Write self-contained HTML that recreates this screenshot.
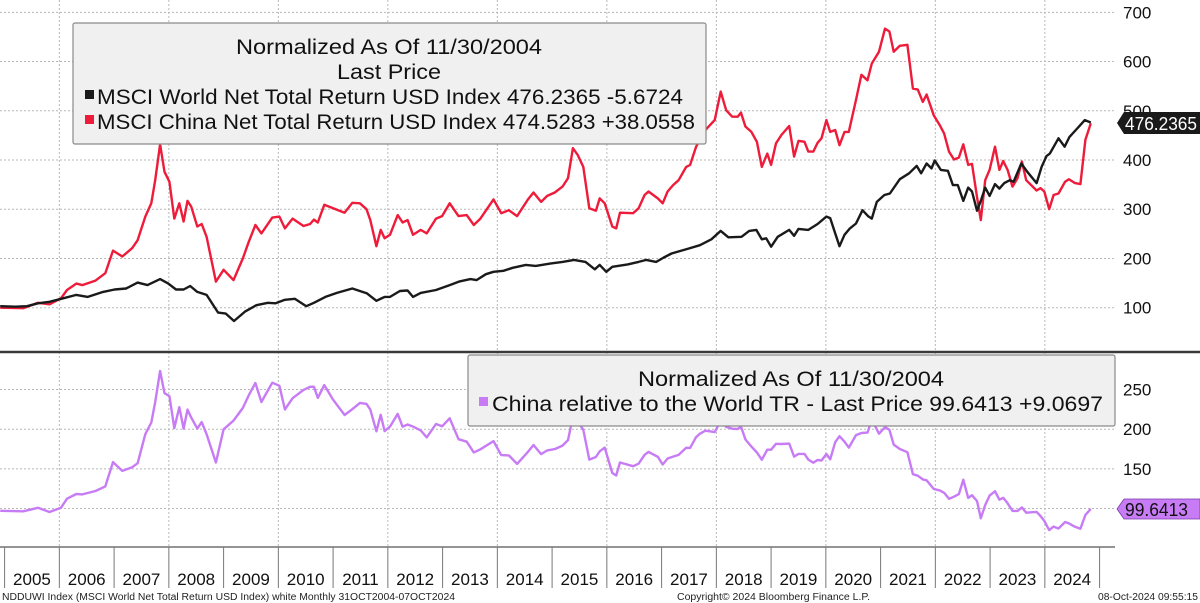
<!DOCTYPE html>
<html><head><meta charset="utf-8"><style>
html,body{margin:0;padding:0;background:#fff;}
svg{display:block;font-family:"Liberation Sans",sans-serif;}
</style></head><body>
<svg id="chart" width="1200" height="603" viewBox="0 0 1200 603" xmlns="http://www.w3.org/2000/svg">
<g id="grid"></g>
<g id="axes"></g>
<g id="series"></g>
<g>
 <rect x="73" y="23" width="633" height="121" fill="#f0f0f0" stroke="#8a8a8a" stroke-width="1.2" rx="2"/>
 <text x="389" y="54" font-size="21" text-anchor="middle" textLength="306" lengthAdjust="spacingAndGlyphs" fill="#111">Normalized As Of 11/30/2004</text>
 <text x="389" y="79" font-size="21" text-anchor="middle" textLength="104" lengthAdjust="spacingAndGlyphs" fill="#111">Last Price</text>
 <rect x="85" y="90" width="9" height="9" fill="#1a1a1a"/>
 <text x="97" y="104" font-size="21" textLength="586" lengthAdjust="spacingAndGlyphs" fill="#111">MSCI World Net Total Return USD Index 476.2365 -5.6724</text>
 <rect x="85" y="115" width="9" height="9" fill="#ee1c3a"/>
 <text x="97" y="129" font-size="21" textLength="598" lengthAdjust="spacingAndGlyphs" fill="#111">MSCI China Net Total Return USD Index 474.5283 +38.0558</text>
</g>
<g>
 <rect x="468" y="355" width="647" height="71" fill="#f0f0f0" stroke="#8a8a8a" stroke-width="1.2" rx="2"/>
 <text x="791" y="386" font-size="21" text-anchor="middle" textLength="306" lengthAdjust="spacingAndGlyphs" fill="#111">Normalized As Of 11/30/2004</text>
 <rect x="479" y="397" width="9" height="9" fill="#c77cf5"/>
 <text x="492" y="411" font-size="21" textLength="611" lengthAdjust="spacingAndGlyphs" fill="#111">China relative to the World TR - Last Price 99.6413 +9.0697</text>
</g>
<g>
 <polygon points="1117,123 1124,112 1200,112 1200,134 1124,134" fill="#1a1a1a"/>
 <text x="1125" y="130" font-size="18" fill="#fff" textLength="72" lengthAdjust="spacingAndGlyphs">476.2365</text>
</g>
<g>
 <polygon points="1117,509 1124,499 1200,499 1200,519 1124,519" fill="#c77cf5" stroke="#7a3aa8" stroke-width="0.8"/>
 <text x="1125" y="516" font-size="18" fill="#111" textLength="63" lengthAdjust="spacingAndGlyphs">99.6413</text>
</g>
<g font-size="10" fill="#222">
 <text x="2" y="600" textLength="453" lengthAdjust="spacingAndGlyphs">NDDUWI Index (MSCI World Net Total Return USD Index) white  Monthly 31OCT2004-07OCT2024</text>
 <text x="677" y="600" textLength="193" lengthAdjust="spacingAndGlyphs">Copyright© 2024 Bloomberg Finance L.P.</text>
 <text x="1098" y="600" textLength="100" lengthAdjust="spacingAndGlyphs">08-Oct-2024 09:55:15</text>
</g>
</svg>
<script>
const chinaDates=[2004.92,2005.34,2005.61,2005.82,2006.03,2006.14,2006.31,2006.42,2006.66,2006.84,2006.98,2007.15,2007.33,2007.43,2007.57,2007.68,2007.75,2007.84,2007.92,2008.01,2008.10,2008.19,2008.27,2008.34,2008.41,2008.52,2008.60,2008.69,2008.86,2009.00,2009.18,2009.35,2009.46,2009.58,2009.69,2009.89,2010.02,2010.12,2010.26,2010.46,2010.58,2010.65,2010.72,2010.84,2011.00,2011.21,2011.35,2011.49,2011.61,2011.68,2011.79,2011.87,2011.94,2012.04,2012.18,2012.27,2012.36,2012.46,2012.60,2012.71,2012.88,2012.99,2013.13,2013.29,2013.44,2013.57,2013.69,2013.93,2014.07,2014.21,2014.36,2014.56,2014.66,2014.80,2014.91,2015.05,2015.19,2015.29,2015.38,2015.47,2015.57,2015.68,2015.80,2015.87,2015.96,2016.10,2016.17,2016.24,2016.48,2016.58,2016.69,2016.76,2016.93,2017.02,2017.11,2017.21,2017.31,2017.45,2017.52,2017.63,2017.70,2017.80,2017.97,2018.08,2018.18,2018.29,2018.39,2018.45,2018.53,2018.64,2018.74,2018.83,2018.93,2019.00,2019.09,2019.19,2019.33,2019.42,2019.50,2019.61,2019.68,2019.77,2019.85,2019.92,2020.01,2020.08,2020.17,2020.25,2020.34,2020.42,2020.55,2020.65,2020.76,2020.84,2020.97,2021.08,2021.16,2021.24,2021.35,2021.49,2021.59,2021.68,2021.77,2021.84,2021.97,2022.08,2022.16,2022.25,2022.34,2022.43,2022.51,2022.60,2022.67,2022.76,2022.83,2022.91,2022.99,2023.09,2023.17,2023.24,2023.32,2023.41,2023.50,2023.58,2023.66,2023.75,2023.85,2023.92,2023.99,2024.08,2024.16,2024.25,2024.37,2024.44,2024.55,2024.65,2024.74,2024.84];
const chinaValues=[100,99,110,107,119,136,149,146,155,170,216,204,221,237,285,312,359,432,376,356,281,312,275,317,305,265,270,244,153,177,156,200,234,268,251,283,285,261,281,266,270,279,273,309,302,293,313,312,300,278,225,258,241,248,288,273,278,248,258,251,281,286,312,286,288,268,281,320,292,298,286,320,334,315,327,334,346,363,424,410,386,302,297,322,312,265,261,293,292,302,329,336,322,312,336,349,359,386,390,427,441,461,481,539,501,488,488,496,468,457,437,386,413,390,434,451,469,407,439,437,417,417,435,444,481,457,461,430,457,457,522,573,562,596,620,667,661,620,632,634,545,543,518,533,491,471,454,417,401,405,432,390,392,325,278,359,380,427,380,398,380,346,363,397,359,349,338,343,336,300,329,332,356,361,353,351,441,474.5];
const worldDates=[2004.92,2005.20,2005.41,2005.61,2005.82,2006.07,2006.31,2006.52,2006.80,2007.01,2007.22,2007.43,2007.61,2007.84,2007.99,2008.13,2008.27,2008.39,2008.52,2008.69,2008.90,2009.04,2009.19,2009.39,2009.60,2009.81,2009.95,2010.12,2010.30,2010.51,2010.65,2010.86,2011.07,2011.35,2011.62,2011.79,2011.94,2012.04,2012.22,2012.36,2012.46,2012.60,2012.88,2013.13,2013.30,2013.51,2013.62,2013.79,2013.93,2014.11,2014.28,2014.52,2014.70,2014.98,2015.19,2015.40,2015.61,2015.78,2015.87,2015.99,2016.10,2016.38,2016.58,2016.72,2016.90,2017.04,2017.18,2017.49,2017.70,2017.91,2018.08,2018.22,2018.46,2018.60,2018.73,2018.83,2018.91,2019.00,2019.12,2019.33,2019.42,2019.50,2019.68,2019.85,2020.01,2020.08,2020.17,2020.25,2020.34,2020.44,2020.55,2020.67,2020.77,2020.84,2020.93,2021.07,2021.17,2021.35,2021.52,2021.66,2021.74,2021.84,2021.93,2021.99,2022.10,2022.23,2022.32,2022.41,2022.51,2022.60,2022.67,2022.76,2022.84,2022.91,2022.99,2023.09,2023.17,2023.26,2023.36,2023.43,2023.57,2023.68,2023.85,2023.94,2024.03,2024.09,2024.25,2024.36,2024.45,2024.59,2024.73,2024.84];
const worldValues=[103,102,103,109,112,119,126,122,132,137,139,151,146,158,149,137,137,144,132,126,90,88,73,92,105,110,109,116,118,103,110,122,130,139,129,114,122,122,134,135,122,130,136,146,153,158,156,168,173,175,181,187,185,190,193,197,193,178,187,173,183,188,193,197,193,202,210,220,227,239,256,243,244,256,258,239,241,224,244,258,246,260,258,270,285,282,251,225,248,261,271,298,286,281,315,329,332,361,373,388,373,393,383,399,380,378,349,349,317,344,336,297,320,344,327,351,342,353,359,356,393,376,353,386,408,413,444,427,447,464,481,476.2];
const topTicks=[100,200,300,400,500,600,700];
const bottomTicks=[150,200,250];
const yearLabels=[2005,2006,2007,2008,2009,2010,2011,2012,2013,2014,2015,2016,2017,2018,2019,2020,2021,2022,2023,2024];

const NS="http://www.w3.org/2000/svg";
function xS(t){return 4.6+(t-2005)*54.75;}
function yTop(v){return 307.7-(v-100)*0.4923;}
function yBot(v){return 508.5-(v-100)*0.793;}
function mk(tag,attrs,parent){const e=document.createElementNS(NS,tag);for(const k in attrs)e.setAttribute(k,attrs[k]);parent.appendChild(e);return e;}
function interp(ds,vs,t){if(t<=ds[0])return vs[0];for(let i=1;i<ds.length;i++){if(t<=ds[i]){const f=(t-ds[i-1])/(ds[i]-ds[i-1]);return vs[i-1]+f*(vs[i]-vs[i-1]);}}return vs[vs.length-1];}

const grid=document.getElementById('grid'),axes=document.getElementById('axes'),series=document.getElementById('series');
// horizontal gridlines + labels top
topTicks.forEach(v=>{
 const l=mk('line',{x1:0,x2:1115,y1:yTop(v),y2:yTop(v),stroke:'#b8b8b8','stroke-width':1,'stroke-dasharray':'2,2'},grid);
 
 
 const t=mk('text',{x:1123,y:yTop(v)+6,'font-size':17,fill:'#111'},axes);
 
 
 t.textContent=v;
});
bottomTicks.concat([100]).forEach(v=>{
 const l=mk('line',{x1:0,x2:1115,y1:yBot(v),y2:yBot(v),stroke:'#b8b8b8','stroke-width':1,'stroke-dasharray':'2,2'},grid);
 
 
});
bottomTicks.forEach(v=>{
 const t=mk('text',{x:1123,y:yBot(v)+6,'font-size':17,fill:'#111'},axes);
 
 
 t.textContent=v;
});
// vertical gridlines every 2 years
for(let yr=2006;yr<=2024;yr+=2){
 const x=xS(yr);
 const l=mk('line',{x1:x,x2:x,y1:0,y2:547,stroke:'#b8b8b8','stroke-width':1,'stroke-dasharray':'2,2'},grid);
 
 
}
// separator
const sep=mk('line',{x1:0,x2:1200,y1:352,y2:352,stroke:'#3a3a3a','stroke-width':2.5},axes);


// x axis
const ax=mk('line',{x1:0,x2:1115,y1:547,y2:547,stroke:'#555','stroke-width':1.2},axes);


yearLabels.forEach(yr=>{
 const tk=mk('line',{x1:xS(yr),x2:xS(yr),y1:547,y2:588,stroke:'#777','stroke-width':1},axes);
 
 
 const t=mk('text',{x:xS(yr+0.5),y:585,'font-size':17,'text-anchor':'middle',fill:'#111'},axes);
 
 
 t.textContent=yr;
});
const lastTk=mk('line',{x1:xS(2025),x2:xS(2025),y1:547,y2:588,stroke:'#777','stroke-width':1},axes);



function path(ds,vs,yf,color,name){
 let d='';ds.forEach((t,i)=>{d+=(i?'L':'M')+xS(t).toFixed(1)+','+yf(vs[i]).toFixed(1);});
 const p=mk('path',{d:d,fill:'none',stroke:color,'stroke-width':2.4,'stroke-linejoin':'round'},series);
 
 
}
path(chinaDates,chinaValues,yTop,'#ee1c3a','china-line');
path(worldDates,worldValues,yTop,'#1a1a1a','world-line');
const relValues=chinaDates.map((t,i)=>chinaValues[i]/interp(worldDates,worldValues,t)*100);
path(chinaDates,relValues,yBot,'#c77cf5','relative-line');
</script>
</body></html>
